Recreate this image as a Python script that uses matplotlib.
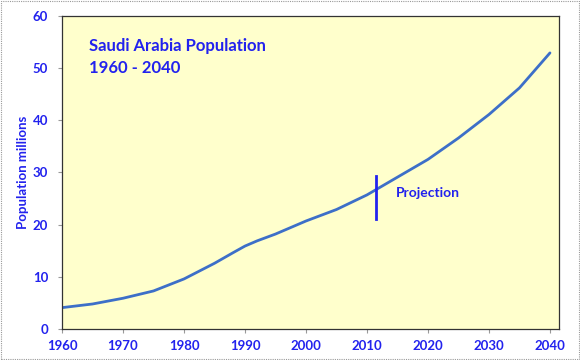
import matplotlib.pyplot as plt
from matplotlib.patches import Rectangle

plt.rcParams['font.family'] = ['Lato', 'DejaVu Sans']

# Saudi Arabia population, millions
years = [1960, 1965, 1970, 1975, 1980, 1985, 1988, 1990, 1992, 1995, 2000,
         2005, 2010, 2015, 2020, 2025, 2030, 2035, 2040]
population = [4.1, 4.8, 5.9, 7.3, 9.6, 12.6, 14.6, 15.9, 16.9, 18.2, 20.7,
              22.9, 25.7, 29.1, 32.5, 36.6, 41.1, 46.2, 52.9]
projection_year = 2011.5
x_ticks = [1960, 1970, 1980, 1990, 2000, 2010, 2020, 2030, 2040]
y_ticks = [0, 10, 20, 30, 40, 50, 60]

blue = '#2222EE'

fig = plt.figure(figsize=(5.8, 3.6), dpi=100)
fig.patch.set_facecolor('white')
fig.patches.append(Rectangle((0.002, 0.003), 0.996, 0.994, transform=fig.transFigure,
                             fill=False, edgecolor='#999999', linewidth=0.8,
                             linestyle=(0, (1, 1))))

ax = fig.add_axes([0.107, 0.086, 0.857, 0.870])
ax.set_facecolor('#FFFFCC')

ax.plot(years, population, color='#3D6FC8', linewidth=2.0, solid_capstyle='round',
        solid_joinstyle='round')
ax.plot([projection_year, projection_year], [21.0, 29.4], color=blue, linewidth=2.0)

ax.set_xlim(1960, 2041.5)
ax.set_ylim(0, 60)
ax.set_xticks(x_ticks)
ax.set_yticks(y_ticks)
ax.tick_params(axis='both', colors='#999999', length=3, width=0.8, labelsize=9.5)
for lab in ax.get_xticklabels() + ax.get_yticklabels():
    lab.set_color(blue)
    lab.set_fontweight('bold')
ax.tick_params(axis='y', pad=7)
ax.tick_params(axis='x', pad=5)

for s in ax.spines.values():
    s.set_color('#333333')
    s.set_linewidth(0.9)

ax.set_ylabel('Population millions', color=blue, fontsize=9.5, fontweight='bold', labelpad=3)

ax.text(0.055, 0.93, 'Saudi Arabia Population\n1960 - 2040', transform=ax.transAxes,
        color=blue, fontsize=12, fontweight='bold', va='top', ha='left', linespacing=1.45)
ax.text(2014.8, 26.0, 'Projection', color=blue, fontsize=10, fontweight='bold',
        va='center', ha='left')

fig.savefig('out.png', dpi=100)
